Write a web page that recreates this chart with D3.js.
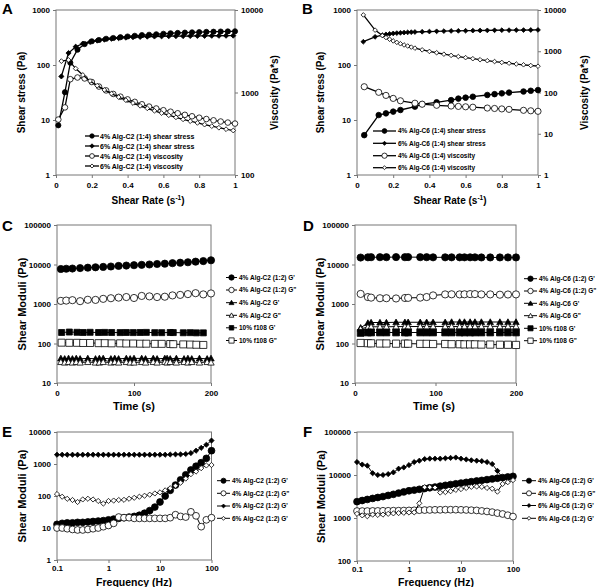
<!DOCTYPE html>
<html><head><meta charset="utf-8">
<script src="https://cdn.jsdelivr.net/npm/d3@7"></script>
<style>
body{margin:0;background:#fff}
svg{display:block}
text{font-family:"Liberation Sans",Arial,sans-serif;font-weight:bold;fill:#000}
</style>
</head><body>
<svg id="chart" width="600" height="587"></svg>
<script>
// ---------------- DATA ----------------
// Panel A (Alg-C2 1:4)
const rateA4   = [0.013,0.05,0.08,0.12,0.16,0.2,0.24,0.28,0.32,0.36,0.4,0.44,0.48,0.52,0.56,0.6,0.64,0.68,0.72,0.76,0.8,0.84,0.88,0.92,0.96,1.0];
const stressA4 = [8,32,110,190,240,270,285,300,310,320,330,340,350,355,362,370,378,383,388,392,396,400,403,406,408,410];
const viscA4   = [470,660,1450,1520,1480,1340,1180,1060,960,890,825,770,720,675,640,610,585,560,536,515,495,477,460,445,432,420];
const rateA6   = [0.03,0.07,0.11,0.15,0.19,0.23,0.27,0.31,0.35,0.39,0.43,0.47,0.51,0.55,0.59,0.63,0.67,0.71,0.75,0.79,0.83,0.87,0.91,0.95,0.99];
const stressA6 = [62,165,215,245,262,278,290,300,308,315,320,324,328,330,332,334,335,336,337,338,339,340,340,341,342];
const viscA6   = [2400,2480,1950,1630,1380,1210,1075,970,880,808,745,690,643,600,563,530,500,473,449,428,408,391,374,359,346];

// Panel B (Alg-C6 1:4)
const rateB4   = [0.04,0.12,0.16,0.2,0.24,0.32,0.36,0.44,0.52,0.56,0.6,0.64,0.72,0.76,0.8,0.84,0.92,0.96,1.0];
const stressB4 = [5.3,12.3,13.2,14.2,15.2,17.5,19.5,21,23,24.5,25.5,26.5,28.5,29.5,30.5,31.5,33,34,35];
const viscB4   = [138,101,85,72,63,55,52,49,47,46,45,44,42,41,40,39,37,36,35];
const rateB6   = [0.035,0.1,0.14,0.16,0.18,0.2,0.22,0.24,0.26,0.28,0.3,0.32,0.36,0.4,0.44,0.48,0.52,0.56,0.6,0.64,0.68,0.72,0.76,0.8,0.84,0.88,0.92,0.96,1.0];
const stressB6 = [265,325,350,360,368,375,380,385,389,392,395,398,402,406,410,413,416,418,420,422,424,426,428,429,430,431,432,433,434];
const viscB6   = [7600,3250,2400,2150,1950,1780,1640,1520,1420,1340,1260,1190,1080,990,920,850,795,745,700,660,623,590,563,536,512,490,470,451,434];

// Panel C (time sweep, Alg-C2)
const timeC1   = [5,12,20,30,40,50,60,70,80,90,100,110,120,130,140,150,160,170,180,190,200];
const gpC12    = [7700,7800,7900,8100,8300,8500,8700,8900,9200,9400,9600,9800,10000,10300,10500,10800,11100,11400,11800,12200,12800];
const gppC12   = [1200,1220,1250,1180,1280,1270,1350,1400,1450,1500,1420,1600,1560,1500,1530,1650,1700,1780,1880,1750,1850];
const timeC2   = [5,10,15,20,25,30,40,50,55,60,70,75,80,90,95,100,110,115,125,130,140,143,147,155,165,170,175,185,195,200];
const gpC2     = [42,41,42,41,42,41,42,41,42,42,41,42,41,42,41,42,42,41,42,41,42,42,41,42,41,42,41,42,41,42];
const gppC2    = [34,33,34,33,34,33,34,33,33,34,33,34,33,34,33,33,34,33,34,33,34,33,34,33,34,33,34,33,34,33];
const timeC3   = [6,16,26,34,43,54,62,71,82,90,99,108,116,127,136,147,151,164,173,181,190];
const gpCf108  = [190,195,192,190,192,190,191,190,189,190,189,190,191,188,188,190,189,187,188,186,186];
const gppCf108 = [105,104,104,103,103,102,102,101,101,100,100,99,99,98,98,97,96,95,94,93,92];

// Panel D (time sweep, Alg-C6)
const timeD    = [7,16,20,31,39,51,62,66,81,89,97,112,120,130,136,143,149,157,168,180,190,200];
const gpD12    = [15000,15200,15300,15300,15300,15400,15300,15400,15300,15300,15200,15200,15200,15200,15200,15200,15200,15100,15100,15100,15100,15100];
const gppD12   = [1800,1500,1450,1400,1400,1380,1420,1430,1450,1500,1650,1750,1760,1750,1760,1780,1780,1750,1750,1720,1740,1750];
const gpD6     = [250,330,340,340,340,345,345,345,345,345,345,345,350,350,350,350,350,350,350,350,350,350];
const gppD6    = [235,260,265,265,265,268,268,268,270,270,270,270,270,270,272,272,272,272,272,272,272,272];
const gpDf108  = [185,190,190,190,190,190,190,190,190,190,190,190,190,190,190,190,190,190,190,190,190,190];
const gppDf108 = [103,102,101,100,100,99,99,99,98,98,97,97,96,96,95,95,95,94,94,93,93,92];

// Frequency sweeps (E, F)
const freq = [0.1,0.126,0.158,0.2,0.251,0.316,0.398,0.501,0.631,0.794,1,1.26,1.58,2,2.51,3.16,3.98,5.01,6.31,7.94,10,12.6,15.8,20,25.1,31.6,39.8,50.1,63.1,79.4,100];
const gpE4  = [13,14,14.5,14.5,15,15,15.5,16,16.5,17,18,19,20,21,22,23,25,29,35,45,65,100,150,220,320,460,650,850,1100,1500,2600];
const gppE4 = [10,10,9.5,9,8.7,8.7,9,9.5,10,11,12,14,22,21,21,20,20,20,20,20,20,20,21,26,23,22,32,24,11,18,21];
const gpE6  = [1950,1950,1950,1950,1950,1950,1950,1950,1950,1950,1950,1950,1950,1950,1950,1950,1950,1950,1950,1950,1950,1950,1980,2000,2000,2050,2200,2600,3200,4000,5400];
const gppE6 = [115,95,82,75,65,78,82,78,70,58,70,72,75,76,82,88,95,102,110,120,130,150,175,210,260,350,480,580,740,900,930];
const gpF4  = [2400,2550,2700,2850,3000,3150,3350,3550,3800,4050,4300,4450,4650,4850,5050,5250,5500,5750,6000,6250,6500,6750,7000,7250,7500,7800,8100,8400,8700,9000,9300];
const gppF4 = [1450,1450,1450,1460,1460,1470,1470,1480,1480,1490,1500,1510,1520,1530,1540,1550,1550,1560,1560,1560,1550,1540,1520,1500,1460,1420,1370,1300,1240,1160,1080];
const gpF6  = [20000,17500,16500,11000,10000,10000,10500,11500,14000,15000,17000,20000,21500,23500,24000,24000,24000,24500,25000,25500,24000,23000,22000,21500,21000,20000,18000,12500,8500,8900,9200];
const gppF6 = [1250,1150,1100,1200,1180,1200,1250,1280,1300,1320,1340,1350,2200,5200,5200,5100,3900,4000,4200,4500,4700,5000,5300,5400,5300,5000,4800,4100,6200,6800,7600];

// Tick values / labels
const tickA_L = [1,10,100,1000],        labA_L = ["1","10","100","1000"];
const tickA_R = [100,1000,10000],       labA_R = ["100","1000","10000"];
const tickB_R = [1,10,100,1000,10000],  labB_R = ["1","10","100","1000","10000"];
const tickRate = [0,0.2,0.4,0.6,0.8,1], labRate = ["0","0.2","0.4","0.6","0.8","1"];
const tickTime = [0,100,200],           labTime = ["0","100","200"];
const tickMod5 = [10,100,1000,10000,100000], labMod5 = ["10","100","1000","10000","100000"];
const tickE_Y = [1,10,100,1000,10000],  labE_Y = ["1","10","100","1000","10000"];
const tickF_Y = [100,1000,10000,100000],labF_Y = ["100","1000","10000","100000"];
const tickFreq = [0.1,1,10,100],        labFreq = ["0.1","1","10","100"];

// Legend labels
const legA = ["4% Alg-C2 (1:4) shear stress","6% Alg-C2 (1:4) shear stress","4% Alg-C2 (1:4) viscosity","6% Alg-C2 (1:4) viscosity"];
const legB = ["4% Alg-C6 (1:4) shear stress","6% Alg-C6 (1:4) shear stress","4% Alg-C6 (1:4) viscosity","6% Alg-C6 (1:4) viscosity"];
const legC = ["4% Alg-C2 (1:2) G'","4% Alg-C2 (1:2) G\"","4% Alg-C2 G'","4% Alg-C2 G\"","10% f108 G'","10% f108 G\""];
const legD = ["4% Alg-C6 (1:2) G'","4% Alg-C6 (1:2) G\"","4% Alg-C6 G'","4% Alg-C6 G\"","10% f108 G'","10% f108 G\""];
const legE = ["4% Alg-C2 (1:2) G'","4% Alg-C2 (1:2) G\"","6% Alg-C2 (1:2) G'","6% Alg-C2 (1:2) G'"];
const legF = ["4% Alg-C6 (1:2) G'","4% Alg-C6 (1:2) G\"","6% Alg-C6 (1:2) G'","6% Alg-C6 (1:2) G'"];

// ---------------- DRAWING ----------------
const FONT = '"Liberation Sans", Arial, sans-serif';
const svg = d3.select('#chart');

function markerPath(type, s) {
  if (type === 'circle') return d3.symbol(d3.symbolCircle, Math.PI * s * s)();
  if (type === 'diamond') return `M0,${-s}L${s},0L0,${s}L${-s},0Z`;
  if (type === 'triangle') return `M0,${-s}L${s},${s*0.8}L${-s},${s*0.8}Z`;
  if (type === 'square') return `M${-s},${-s}H${s}V${s}H${-s}Z`;
}

function styleAxis(sel, fs) {
  sel.attr('font-family', FONT).attr('font-size', fs).attr('font-weight', 'bold');
  sel.select('.domain').remove();
  sel.selectAll('line').attr('stroke', '#777');
  sel.selectAll('text').attr('fill', '#000');
}

function drawPanel(c) {
  const g = svg.append('g');
  const x = (c.xLog ? d3.scaleLog() : d3.scaleLinear()).domain(c.xDomain).range([c.left, c.right]);
  const y = d3.scaleLog().domain(c.yDomain).range([c.bottom, c.top]);
  const y2 = c.y2Domain ? d3.scaleLog().domain(c.y2Domain).range([c.bottom, c.top]) : null;

  g.append('g').attr('transform', `translate(0,${c.bottom})`)
    .call(d3.axisBottom(x).tickValues(c.xTicks).tickFormat((d, i) => c.xLabels[i]).tickSize(3).tickPadding(c.xPad || 4))
    .call(s => styleAxis(s, c.tickFs || 8));
  g.append('g').attr('transform', `translate(${c.left},0)`)
    .call(d3.axisLeft(y).tickValues(c.yTicks).tickFormat((d, i) => c.yLabels[i]).tickSize(3).tickPadding(3))
    .call(s => styleAxis(s, c.tickFs || 8));
  if (y2) {
    g.append('g').attr('transform', `translate(${c.right},0)`)
      .call(d3.axisRight(y2).tickValues(c.y2Ticks).tickFormat((d, i) => c.y2Labels[i]).tickSize(3).tickPadding(3))
      .call(s => styleAxis(s, c.tickFs || 8));
  }
  g.append('rect').attr('x', c.left).attr('y', c.top)
    .attr('width', c.right - c.left).attr('height', c.bottom - c.top)
    .attr('fill', 'none').attr('stroke', '#777').attr('stroke-width', 1);

  c.series.forEach(s => {
    const sc = s.axis === 2 ? y2 : y;
    const pts = s.x.map((xv, i) => [x(xv), sc(s.y[i])]);
    g.append('path').attr('d', d3.line()(pts)).attr('fill', 'none')
      .attr('stroke', '#000').attr('stroke-width', c.lw || 1.2);
    g.append('g').selectAll('path').data(pts).join('path')
      .attr('transform', d => `translate(${d[0]},${d[1]})`)
      .attr('d', markerPath(s.marker, s.size))
      .attr('fill', s.fill ? '#000' : '#fff').attr('stroke', '#000').attr('stroke-width', 0.8);
  });

  const L = c.legend;
  c.series.forEach((s, i) => {
    const ly = L.rows[i];
    g.append('line').attr('x1', L.x0).attr('x2', L.x1).attr('y1', ly).attr('y2', ly)
      .attr('stroke', '#000').attr('stroke-width', c.lw || 1.2);
    g.append('path').attr('transform', `translate(${(L.x0 + L.x1) / 2},${ly})`)
      .attr('d', markerPath(s.marker, s.size * (L.ms || 0.85)))
      .attr('fill', s.fill ? '#000' : '#fff').attr('stroke', '#000').attr('stroke-width', 0.8);
    g.append('text').attr('x', L.tx).attr('y', ly + L.fs * 0.36)
      .attr('font-size', L.fs).text(L.labels[i]);
  });

  g.append('text').attr('x', c.letter[1]).attr('y', c.letter[2]).attr('font-size', 15).text(c.letter[0]);

  const yt = c.yTitle;
  g.append('text').attr('transform', `translate(${yt[1]},${(c.top + c.bottom) / 2}) rotate(-90)`)
    .attr('text-anchor', 'middle').attr('font-size', yt[2]).text(yt[0]);
  if (c.y2Title) {
    const t2 = c.y2Title;
    g.append('text').attr('transform', `translate(${t2[1]},${(c.top + c.bottom) / 2}) rotate(-90)`)
      .attr('text-anchor', 'middle').attr('font-size', t2[2]).text(t2[0]);
  }
  const xt = c.xTitle;
  const tx = g.append('text').attr('x', xt[1]).attr('y', xt[2]).attr('text-anchor', 'middle').attr('font-size', xt[3]);
  if (xt[0] === 'rate') {
    tx.append('tspan').text('Shear Rate (s');
    tx.append('tspan').attr('font-size', xt[3] * 0.65).attr('dy', -4).text('-1');
    tx.append('tspan').attr('dy', 4).text(')');
  } else tx.text(xt[0]);
}

drawPanel({
  left: 56, right: 235, top: 10, bottom: 175,
  xDomain: [0, 1], yDomain: [1, 1000], y2Domain: [100, 10000],
  xTicks: tickRate, xLabels: labRate, yTicks: tickA_L, yLabels: labA_L, y2Ticks: tickA_R, y2Labels: labA_R,
  lw: 1.3,
  series: [
    {x: rateA4, y: stressA4, axis: 1, marker: 'circle', fill: true, size: 2.6},
    {x: rateA6, y: stressA6, axis: 1, marker: 'diamond', fill: true, size: 2.6},
    {x: rateA4, y: viscA4, axis: 2, marker: 'circle', fill: false, size: 2.8},
    {x: rateA6, y: viscA6, axis: 2, marker: 'diamond', fill: false, size: 2.4}
  ],
  legend: {x0: 85, x1: 99, tx: 100, rows: [136, 146, 156, 166], fs: 7, labels: legA},
  letter: ['A', 2, 14], yTitle: ['Shear stress (Pa)', 25, 10], y2Title: ['Viscosity (Pa*s)', 278, 10],
  xTitle: ['rate', 148, 204, 10]
});

drawPanel({
  left: 357, right: 538, top: 10, bottom: 175,
  xDomain: [0, 1], yDomain: [1, 1000], y2Domain: [1, 10000],
  xTicks: tickRate, xLabels: labRate, yTicks: tickA_L, yLabels: labA_L, y2Ticks: tickB_R, y2Labels: labB_R,
  lw: 1.3,
  series: [
    {x: rateB4, y: stressB4, axis: 1, marker: 'circle', fill: true, size: 2.8},
    {x: rateB6, y: stressB6, axis: 1, marker: 'diamond', fill: true, size: 2.4},
    {x: rateB4, y: viscB4, axis: 2, marker: 'circle', fill: false, size: 3.1},
    {x: rateB6, y: viscB6, axis: 2, marker: 'diamond', fill: false, size: 2.3}
  ],
  legend: {x0: 373, x1: 396, tx: 398, rows: [131, 143.3, 155.7, 167.7], fs: 6.5, labels: legB},
  letter: ['B', 302, 14], yTitle: ['Shear stress (Pa)', 324, 10], y2Title: ['Viscosity (Pa*s)', 588, 10],
  xTitle: ['rate', 450, 204, 10]
});

drawPanel({
  left: 57, right: 211, top: 225, bottom: 383,
  xDomain: [0, 200], yDomain: [10, 100000],
  xTicks: tickTime, xLabels: labTime, yTicks: tickMod5, yLabels: labMod5,
  lw: 1,
  series: [
    {x: timeC1, y: gpC12, marker: 'circle', fill: true, size: 3.6},
    {x: timeC1, y: gppC12, marker: 'circle', fill: false, size: 3.6},
    {x: timeC2, y: gpC2, marker: 'triangle', fill: true, size: 3.2},
    {x: timeC2, y: gppC2, marker: 'triangle', fill: false, size: 3.2},
    {x: timeC3, y: gpCf108, marker: 'square', fill: true, size: 3},
    {x: timeC3, y: gppCf108, marker: 'square', fill: false, size: 3.5}
  ],
  legend: {x0: 226, x1: 237, tx: 239, rows: [277.5, 290, 302.7, 315.3, 327.8, 340.5], fs: 6.5, labels: legC, ms: 0.75},
  letter: ['C', 2, 231], yTitle: ['Shear Moduli (Pa)', 26, 11],
  xTitle: ['Time (s)', 134, 410, 11]
});

drawPanel({
  left: 355, right: 516, top: 225, bottom: 383,
  xDomain: [0, 200], yDomain: [10, 100000],
  xTicks: tickTime, xLabels: labTime, yTicks: tickMod5, yLabels: labMod5,
  lw: 1,
  series: [
    {x: timeD, y: gpD12, marker: 'circle', fill: true, size: 3.6},
    {x: timeD, y: gppD12, marker: 'circle', fill: false, size: 3.6},
    {x: timeD, y: gpD6, marker: 'triangle', fill: true, size: 3.2},
    {x: timeD, y: gppD6, marker: 'triangle', fill: false, size: 3.2},
    {x: timeD, y: gpDf108, marker: 'square', fill: true, size: 3.4},
    {x: timeD, y: gppDf108, marker: 'square', fill: false, size: 3.6}
  ],
  legend: {x0: 524, x1: 537, tx: 539, rows: [278.7, 291, 303.3, 315.7, 328.3, 340.7], fs: 6.5, labels: legD, ms: 0.75},
  letter: ['D', 303, 231], yTitle: ['Shear Moduli (Pa)', 324, 11],
  xTitle: ['Time (s)', 434, 410, 11]
});

drawPanel({
  left: 57, right: 211.5, top: 432, bottom: 560, xLog: true,
  xDomain: [0.1, 100], yDomain: [1, 10000],
  xTicks: tickFreq, xLabels: labFreq, yTicks: tickE_Y, yLabels: labE_Y,
  lw: 1, xPad: 2,
  series: [
    {x: freq, y: gpE4, marker: 'circle', fill: true, size: 3.4},
    {x: freq, y: gppE4, marker: 'circle', fill: false, size: 3.4},
    {x: freq, y: gpE6, marker: 'diamond', fill: true, size: 2.6},
    {x: freq, y: gppE6, marker: 'diamond', fill: false, size: 2.6}
  ],
  legend: {x0: 217, x1: 230, tx: 232, rows: [480.7, 493.3, 506, 518.3], fs: 6.5, labels: legE, ms: 0.75},
  letter: ['E', 2, 437], yTitle: ['Shear Moduli (Pa)', 26, 11],
  xTitle: ['Frequency (Hz)', 134, 585.5, 10.5]
});

drawPanel({
  left: 357, right: 513, top: 432, bottom: 561, xLog: true,
  xDomain: [0.1, 100], yDomain: [100, 100000],
  xTicks: tickFreq, xLabels: labFreq, yTicks: tickF_Y, yLabels: labF_Y,
  lw: 1, xPad: 2,
  series: [
    {x: freq, y: gpF4, marker: 'circle', fill: true, size: 3.4},
    {x: freq, y: gppF4, marker: 'circle', fill: false, size: 3.4},
    {x: freq, y: gpF6, marker: 'diamond', fill: true, size: 2.6},
    {x: freq, y: gppF6, marker: 'diamond', fill: false, size: 2.6}
  ],
  legend: {x0: 522, x1: 536, tx: 538, rows: [480.7, 493.3, 505.5, 518.3], fs: 6.5, labels: legF, ms: 0.75},
  letter: ['F', 303, 437], yTitle: ['Shear Moduli (Pa)', 325, 11],
  xTitle: ['Frequency (Hz)', 436, 585.5, 10.5]
});
</script>
</body></html>
